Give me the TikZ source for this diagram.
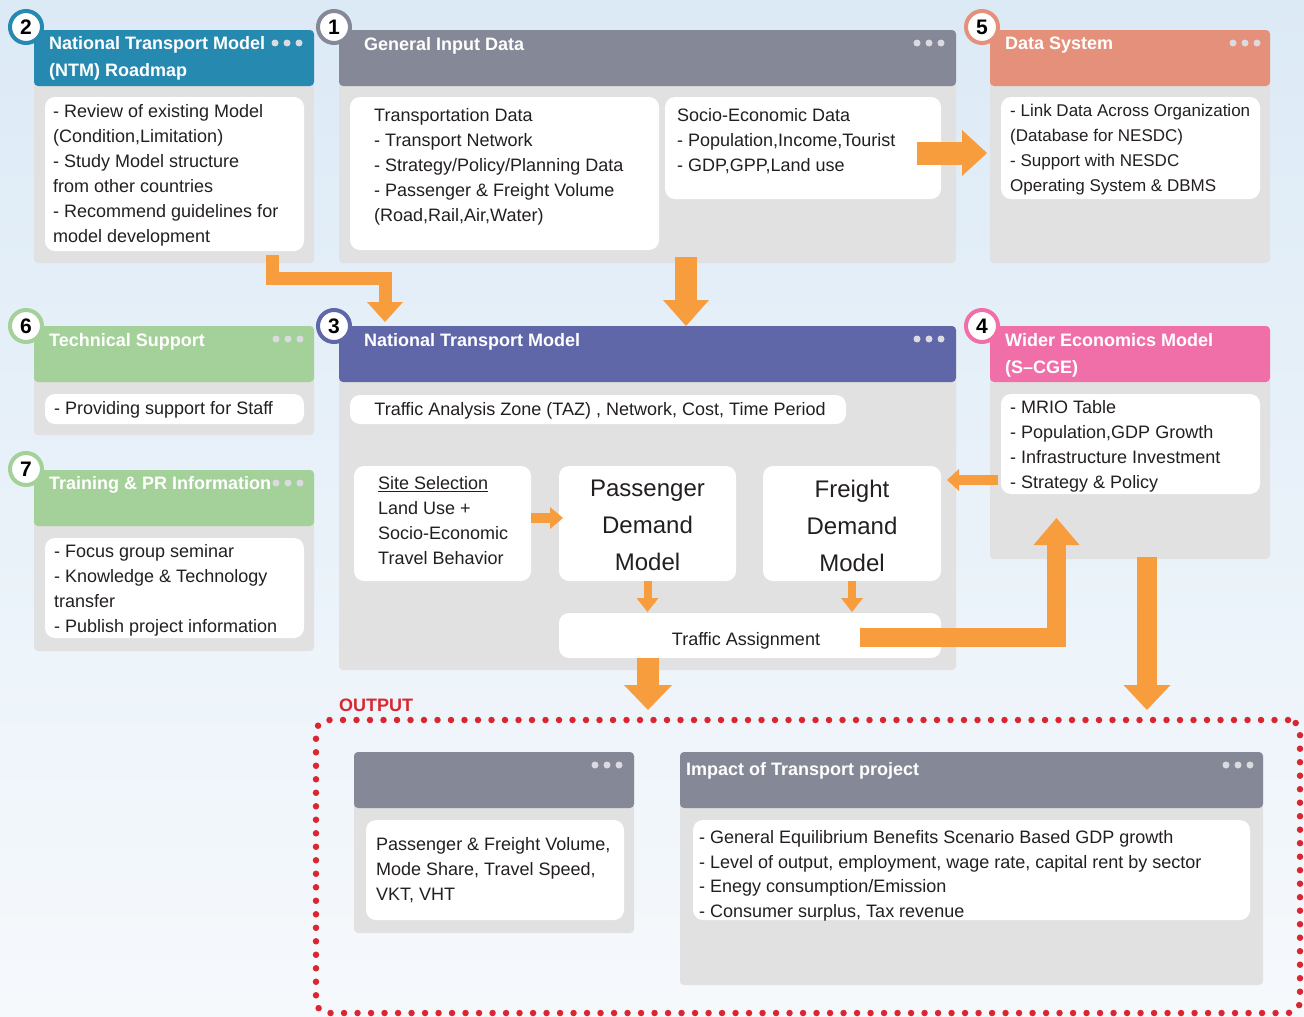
\documentclass[tikz,border=0pt]{standalone}
\usepackage{fontspec}
\setmainfont{Liberation Sans}
\usetikzlibrary{positioning,arrows.meta}
\definecolor{bgtop}{HTML}{DCEAF6}
\definecolor{bgbot}{HTML}{F6F9FC}
\definecolor{bodygray}{HTML}{E1E1E1}
\definecolor{hgray}{HTML}{858897}
\definecolor{teal}{HTML}{2589B0}
\definecolor{salmon}{HTML}{E5907A}
\definecolor{green}{HTML}{A4D099}
\definecolor{purple}{HTML}{5F67A8}
\definecolor{pink}{HTML}{F06FA8}
\definecolor{flow}{HTML}{F89D3D}
\definecolor{outred}{HTML}{D92630}
\definecolor{ink}{HTML}{231F20}
\definecolor{dotgray}{HTML}{DADAE0}
\newcommand{\menudots}[2]{\foreach \k in {0,12,24} \fill[dotgray] (#1+\k,#2) circle[radius=3.5pt];}
\begin{document}
\begin{tikzpicture}[x=1pt, y=-1pt, line join=miter,
    panel/.style args={#1x#2}{fill=bodygray, rounded corners=4pt, anchor=north west, inner sep=0pt, outer sep=0pt, minimum width=#1pt, minimum height=#2pt},
    head/.style args={#1/#2}{fill=#1, rounded corners=4pt, anchor=north west, inner sep=0pt, outer sep=0pt, minimum width=#2pt, minimum height=56pt},
    card/.style args={#1x#2}{fill=white, rounded corners=10pt, anchor=north west, inner sep=0pt, outer sep=0pt, minimum width=#1pt, minimum height=#2pt, text=ink, align=center, font=\fontsize{18}{25}\selectfont},
    big/.style={font=\fontsize{24}{37}\selectfont},
    txt/.style={inner sep=0pt, align=left, text=ink, font=\fontsize{18}{25}\selectfont},
    ttl/.style={inner sep=0pt, align=left, text=white, anchor=north west, font=\bfseries\fontsize{18}{27}\selectfont},
    num/.style={circle, fill=white, draw=#1, line width=4pt, minimum size=32pt, inner sep=0pt, text=black, font=\bfseries\fontsize{21}{21}\selectfont},
    outbox/.style={draw=outred, line width=6.5pt, line cap=round, dash pattern=on 0pt off 13.5pt, rounded corners=12pt, anchor=north west, inner sep=0pt, outer sep=0pt, minimum width=984pt, minimum height=293pt},
    fat/.style args={#1/#2/#3}{draw=flow, line width=#1pt, -{Triangle[width=#2pt, length=#3pt, line width=0pt]}}]
    % nền
    \shade[top color=bgtop, bottom color=bgbot] (0,0) rectangle (1304,1017);
    \useasboundingbox (0,0) rectangle (1304,1017);

    % 2: roadmap
    \node[panel=280x233] (p2) at (34,30) {};
    \node[head=teal/280] (h2) at (34,30) {};
    \node[ttl] at (49,36.5) {National Transport Model\\(NTM) Roadmap};
    \menudots{275}{43}
    \node[card=259x154] (c2) at (45,97) {};
    \node[txt, below right=7pt and 8pt of c2.north west] {- Review of existing Model\\(Condition,Limitation)\\- Study Model structure\\from other countries\\- Recommend guidelines for\\model development};
    \node[num=teal] (n2) at (26,27) {2};

    % 1: general input data
    \node[panel=617x233] (p1) at (339,30) {};
    \node[head=hgray/617] (h1) at (339,30) {};
    \node[ttl] at (364,37.5) {General Input Data};
    \menudots{917}{43}
    \node[card=309x153] (c1a) at (350,97) {};
    \node[txt, below right=11pt and 24pt of c1a.north west] {Transportation Data\\- Transport Network\\- Strategy/Policy/Planning Data\\- Passenger \& Freight Volume\\(Road,Rail,Air,Water)};
    \node[card=276x102] (c1b) at (665,97) {};
    \node[txt, below right=11pt and 12pt of c1b.north west] {Socio-Economic Data\\- Population,Income,Tourist\\- GDP,GPP,Land use};
    \node[num=hgray] (n1) at (334,27) {1};

    % 5: data system
    \node[panel=280x233] (p5) at (990,30) {};
    \node[head=salmon/280] (h5) at (990,30) {};
    \node[ttl] at (1005,36.5) {Data System};
    \menudots{1233}{43}
    \node[card=259x102] (c5) at (1001,97) {};
    \node[txt, font=\fontsize{17}{25}\selectfont, below right=7pt and 9pt of c5.north west] {- Link Data Across Organization\\(Database for NESDC)\\- Support with NESDC\\Operating System \& DBMS};
    \node[num=salmon] (n5) at (982,27) {5};

    % 6: technical support
    \node[panel=280x109] (p6) at (34,326) {};
    \node[head=green/280] (h6) at (34,326) {};
    \node[ttl] at (49,333.5) {Technical Support};
    \menudots{276}{339}
    \node[card=259x30] (c6) at (45,394) {};
    \node[txt, below right=7pt and 9pt of c6.north west] {- Providing support for Staff};
    \node[num=green] (n6) at (26,326) {6};

    % 7: training
    \node[panel=280x181] (p7) at (34,470) {};
    \node[head=green/280] (h7) at (34,470) {};
    \node[ttl] at (49,476.5) {Training \& PR Information};
    \menudots{276}{483}
    \node[card=259x100] (c7) at (45,538) {};
    \node[txt, below right=6pt and 9pt of c7.north west] {- Focus group seminar\\- Knowledge \& Technology\\transfer\\- Publish project information};
    \node[num=green] (n7) at (26,469) {7};

    % 3: national transport model
    \node[panel=617x344] (p3) at (339,326) {};
    \node[head=purple/617] (h3) at (339,326) {};
    \node[ttl] at (364,333.5) {National Transport Model};
    \menudots{917}{339}
    \node[card=496x29] (taz) at (350,395) {};
    \node[txt] at ([xshift=2pt,yshift=-1.5pt]taz.center) {Traffic Analysis Zone (TAZ) , Network, Cost, Time Period};
    \node[card=177x115] (site) at (354,466) {};
    \node[txt, below right=10pt and 24pt of site.north west] {\underline{Site Selection}\\Land Use +\\Socio-Economic\\Travel Behavior};
    \node[card=177x115] (pdm) at (559,466) {};
    \node[txt, big, align=center] at ([yshift=-2pt]pdm.center) {Passenger\\Demand\\Model};
    \node[card=178x115] (fdm) at (763,466) {};
    \node[txt, big, align=center] at ([yshift=-2pt]fdm.center) {Freight\\Demand\\Model};
    \node[card=382x45] (ta) at (559,613) {};
    \node[txt] at ([xshift=-4pt,yshift=-5pt]ta.center) {Traffic Assignment};
    \node[num=purple] (n3) at (334,326) {3};

    % 4: wider economics
    \node[panel=280x233] (p4) at (990,326) {};
    \node[head=pink/280] (h4) at (990,326) {};
    \node[ttl] at (1005,333.5) {Wider Economics Model\\(S–CGE)};
    \node[card=259x100] (c4) at (1001,394) {};
    \node[txt, below right=6pt and 9pt of c4.north west] {- MRIO Table\\- Population,GDP Growth\\- Infrastructure Investment\\- Strategy \& Policy};
    \node[num=pink] (n4) at (982,326) {4};

    % output
    \node[outbox] (out) at (316,720) {};
    \node[above right=8pt and 23pt of out.north west, inner sep=0pt, text=outred, font=\bfseries\fontsize{18}{18}\selectfont] (outlbl) {OUTPUT};
    \node[panel=280x181] (oa) at (354,752) {};
    \node[head=hgray/280] (hoa) at (354,752) {};
    \menudots{595}{765}
    \node[card=258x100] (ca) at (366,820) {};
    \node[txt, below right=17pt and 10pt of ca.north west] {Passenger \& Freight Volume,\\Mode Share, Travel Speed,\\VKT, VHT};
    \node[panel=583x233] (ob) at (680,752) {};
    \node[head=hgray/583] (hob) at (680,752) {};
    \node[ttl] at (686,762.5) {Impact of Transport project};
    \menudots{1226}{765}
    \node[card=557x100] (cb) at (693,820) {};
    \node[txt, font=\fontsize{18}{24.5}\selectfont, below right=10.5pt and 6pt of cb.north west] {- General Equilibrium Benefits Scenario Based GDP growth\\- Level of output, employment, wage rate, capital rent by sector\\- Enegy consumption/Emission\\- Consumer surplus, Tax revenue};

    % arrows
    \draw[fat=13/36/20] ([xshift=98pt,yshift=8pt]p2.south) -- ++(0,23.5) -| ([xshift=46pt,yshift=4pt]p3.north west);
    \draw[fat=22/46/26] ([xshift=38.5pt,yshift=6pt]p1.south) -- ([xshift=38.5pt]p3.north);
    \draw[fat=23/46/25] ([xshift=-24pt,yshift=-5pt]c1b.east) -- ([xshift=-3pt,yshift=-6.5pt]p5.west);
    \draw[fat=10/22/13] ([yshift=5.5pt]site.east) -- ([xshift=4pt,yshift=5.5pt]pdm.west);
    \draw[fat=8/22/14] (pdm.south) -- ([xshift=-102.5pt,yshift=1pt]ta.north);
    \draw[fat=8/22/14] (fdm.south) -- ([xshift=102pt,yshift=1pt]ta.north);
    \draw[fat=10/22/12] ([xshift=8pt,yshift=-37.5pt]p4.west) -- ([xshift=6pt,yshift=43.5pt]fdm.east);
    \draw[fat=19/46/27] ([xshift=-81pt,yshift=-1.5pt]ta.east) -| ([xshift=66.5pt,yshift=41pt]p4.south west);
    \draw[fat=20/47/25] ([xshift=17pt,yshift=2pt]p4.south) -- ([xshift=339pt,yshift=10pt]out.north);
    \draw[fat=22/48/25] ([xshift=-102pt]ta.south) -- ([xshift=-160pt,yshift=10pt]out.north);
\end{tikzpicture}
\end{document}
